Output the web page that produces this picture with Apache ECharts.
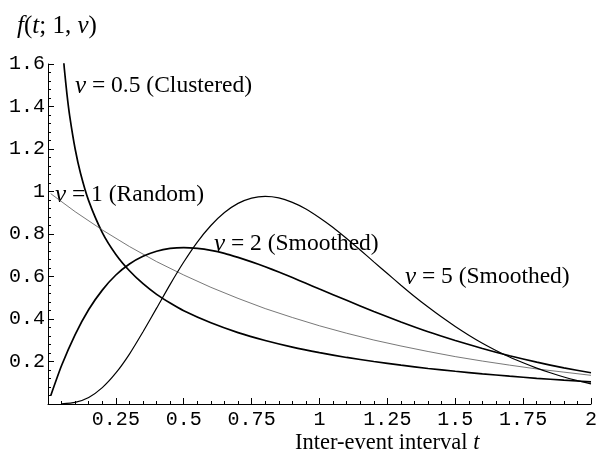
<!DOCTYPE html>
<html>
<head>
<meta charset="utf-8">
<script src="https://cdn.jsdelivr.net/npm/echarts@6/dist/echarts.min.js"></script>
<style>html,body{margin:0;padding:0;background:#fff;}#c{width:600px;height:457px;}</style>
</head>
<body>
<div id="c"></div>
<script>
// t values and densities
const tHalf = [0.05,0.06,0.07,0.08,0.1,0.12,0.15,0.2,0.25,0.3,0.35,0.4,0.45,0.5,0.6,0.7,0.8,0.9,1.0,1.1,1.2,1.3,1.4,1.5,1.6,1.7,1.8,1.9,2.0];
const vHalf = [1.740,1.580,1.456,1.355,1.200,1.085,0.956,0.807,0.704,0.627,0.566,0.516,0.475,0.439,0.382,0.336,0.299,0.268,0.242,0.219,0.200,0.183,0.167,0.154,0.142,0.131,0.121,0.112,0.104];

const tOne = [0.01,0.1,0.2,0.3,0.4,0.5,0.6,0.7,0.8,0.9,1.0,1.1,1.2,1.3,1.4,1.5,1.6,1.7,1.8,1.9,2.0];
const vOne = [0.990,0.905,0.819,0.741,0.670,0.607,0.549,0.497,0.449,0.407,0.368,0.333,0.301,0.273,0.247,0.223,0.202,0.183,0.165,0.150,0.135];

const tTwo = [0.01,0.05,0.1,0.15,0.2,0.25,0.3,0.35,0.4,0.45,0.5,0.55,0.6,0.65,0.7,0.75,0.8,0.85,0.9,0.95,1.0,1.1,1.2,1.3,1.4,1.5,1.6,1.7,1.8,1.9,2.0];
const vTwo = [0.039,0.181,0.327,0.445,0.536,0.607,0.659,0.695,0.719,0.732,0.736,0.732,0.723,0.709,0.690,0.669,0.646,0.621,0.595,0.568,0.541,0.488,0.435,0.386,0.340,0.299,0.261,0.227,0.197,0.170,0.147];

const tFive = [0.05,0.1,0.15,0.2,0.25,0.3,0.35,0.4,0.45,0.5,0.55,0.6,0.65,0.7,0.75,0.8,0.85,0.9,0.95,1.0,1.05,1.1,1.15,1.2,1.25,1.3,1.35,1.4,1.45,1.5,1.55,1.6,1.65,1.7,1.75,1.8,1.85,1.9,1.95,2.0];
const vFive = [0.001,0.008,0.031,0.077,0.146,0.235,0.340,0.451,0.563,0.668,0.762,0.840,0.901,0.944,0.969,0.977,0.970,0.949,0.918,0.877,0.831,0.779,0.725,0.669,0.614,0.559,0.506,0.456,0.409,0.365,0.324,0.286,0.252,0.221,0.194,0.169,0.147,0.127,0.110,0.095];

const xTicks = {min: 0, max: 2, interval: 0.25};
const yTicks = {min: 0, max: 1.6, interval: 0.2};

function pairs(t, v) { return t.map((x, i) => [x, v[i]]); }

const SERIF = '"Liberation Serif", "DejaVu Serif", serif';
const MONO = '"Liberation Mono", "DejaVu Sans Mono", monospace';

function fmt(v) { if (Math.abs(v) < 1e-9) return ''; return String(Number(v.toFixed(2))); }

const axisCommon = {
  type: 'value',
  axisLine: {show: true, onZero: false, lineStyle: {color: '#000', width: 1}},
  axisTick: {show: true, inside: true, length: 6, lineStyle: {color: '#000', width: 1}},
  minorTick: {show: true, splitNumber: 5, length: 3, lineStyle: {color: '#000', width: 1}},
  splitLine: {show: false},
  minorSplitLine: {show: false},
  axisLabel: {color: '#000', fontFamily: MONO, fontSize: 20, formatter: fmt}
};

const chart = echarts.init(document.getElementById('c'), null, {renderer: 'canvas'});

function label(x, y, num, word) {
  return {
    type: 'text', x: x, y: y, silent: true,
    style: {
      text: '{i|ν}{n| = ' + num + ' (' + word + ')}',
      verticalAlign: 'middle', align: 'left',
      rich: {
        i: {fontFamily: SERIF, fontStyle: 'italic', fontSize: 25, fill: '#000'},
        n: {fontFamily: SERIF, fontSize: 23.5, fill: '#000'}
      }
    }
  };
}

chart.setOption({
  animation: false,
  backgroundColor: '#fff',
  grid: {left: 48, right: 3, top: 64, bottom: 53, containLabel: false},
  xAxis: Object.assign({}, axisCommon, xTicks, {
    axisLabel: Object.assign({}, axisCommon.axisLabel, {margin: 6})
  }),
  yAxis: Object.assign({}, axisCommon, yTicks, {
    axisLabel: Object.assign({}, axisCommon.axisLabel, {margin: 3})
  }),
  series: [
    {type: 'line', data: pairs(tHalf, vHalf), showSymbol: false, smooth: 0.2, clip: true,
     lineStyle: {color: '#000', width: 1.7}},
    {type: 'line', data: pairs(tOne, vOne), showSymbol: false, clip: true,
     lineStyle: {color: '#555', width: 0.8}},
    {type: 'line', data: pairs(tTwo, vTwo), showSymbol: false, smooth: 0.2, clip: true,
     lineStyle: {color: '#000', width: 1.7}},
    {type: 'line', data: pairs(tFive, vFive), showSymbol: false, smooth: 0.2, clip: true,
     lineStyle: {color: '#000', width: 1.2}}
  ],
  graphic: [
    {type: 'text', x: 17, y: 26, silent: true,
     style: {text: '{i|f}{n|(}{i|t}{n|; 1, }{i|ν}{n|)}', verticalAlign: 'middle',
       rich: {
         i: {fontFamily: SERIF, fontStyle: 'italic', fontSize: 25, fill: '#000'},
         n: {fontFamily: SERIF, fontSize: 25, fill: '#000'}
       }}},
    {type: 'text', x: 295, y: 443, silent: true,
     style: {text: '{n|Inter-event interval }{i|t}', verticalAlign: 'middle',
       rich: {
         i: {fontFamily: SERIF, fontStyle: 'italic', fontSize: 22.5, fill: '#000'},
         n: {fontFamily: SERIF, fontSize: 22.5, fill: '#000'}
       }}},
    label(75, 86, '0.5', 'Clustered'),
    label(55, 195, '1', 'Random'),
    label(214, 244, '2', 'Smoothed'),
    label(405, 277, '5', 'Smoothed')
  ]
});
</script>
</body>
</html>
